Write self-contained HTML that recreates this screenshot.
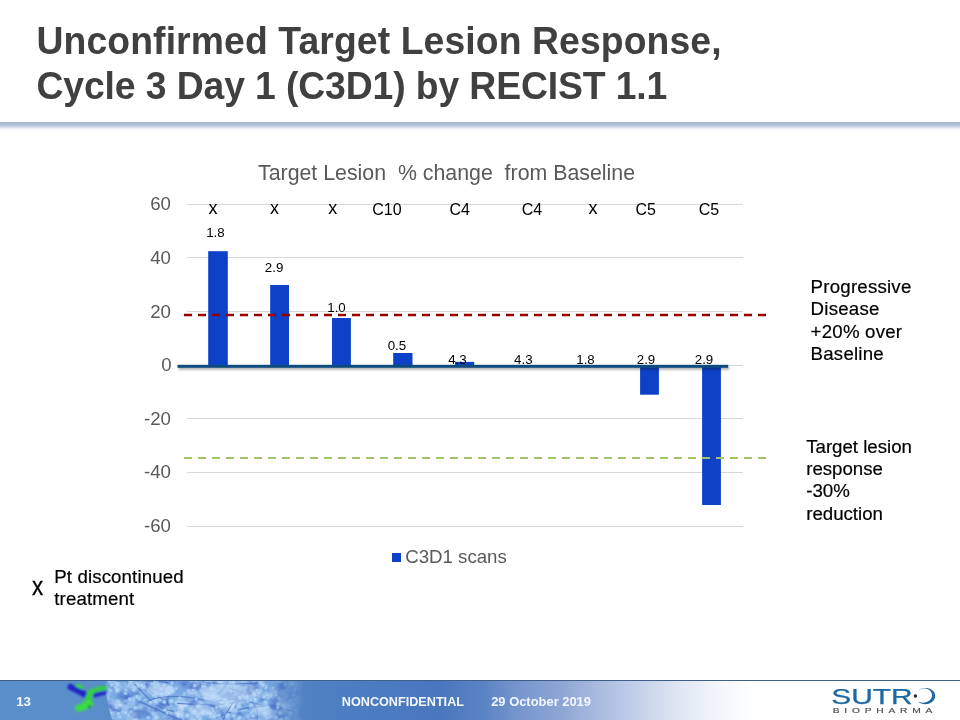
<!DOCTYPE html>
<html lang="en">
<head>
<meta charset="utf-8">
<title>Unconfirmed Target Lesion Response</title>
<style>
  html, body { margin: 0; padding: 0; }
  body { width: 960px; height: 720px; overflow: hidden; background: #ffffff; position: relative;
         font-family: "Liberation Sans", Arial, sans-serif; color: #000; }
  .abs { position: absolute; white-space: nowrap; }
  #title { left: 36.5px; top: 19.3px; font-size: 37.33px; font-weight: bold; color: #404040; line-height: 44.8px; }
  #divider { left: 0; top: 122px; width: 960px; height: 8px;
             background: linear-gradient(to bottom, #a7b8ce 0%, #adbdd2 30%, #c6d2e1 55%, #e8edf4 80%, #ffffff 100%); }
  #chart { left: 0; top: 0; width: 960px; height: 720px; }
  .note { font-size: 18.67px; line-height: 22.4px; color: #000; -webkit-text-stroke: 0.2px #000; }
  #footer { left: 0; top: 680px; width: 960px; height: 40px; }
</style>
</head>
<body>
<div id="title" class="abs"><span style="letter-spacing:0.1px; display:inline-block; transform:scaleY(1.03); transform-origin:0 78.9%;">Unconfirmed Target Lesion Response,</span><br><span style="letter-spacing:-0.12px; display:inline-block; transform:scaleY(1.03); transform-origin:0 78.9%;">Cycle 3 Day 1 (C3D1) by RECIST 1.1</span></div>
<div id="divider" class="abs"></div>

<svg id="chart" class="abs" viewBox="0 0 960 720" font-family="Liberation Sans, Arial, sans-serif">
  <defs>
    <filter id="axsh" filterUnits="userSpaceOnUse" x="160" y="350" width="600" height="40">
      <feGaussianBlur in="SourceAlpha" stdDeviation="1.2"/>
      <feOffset dx="1" dy="2" result="o"/>
      <feComponentTransfer><feFuncA type="linear" slope="0.32"/></feComponentTransfer>
      <feMerge><feMergeNode/><feMergeNode in="SourceGraphic"/></feMerge>
    </filter>
  </defs>
  <!-- gridlines -->
  <g stroke="#d9d9d9" stroke-width="1" shape-rendering="crispEdges">
    <line x1="187" x2="743" y1="204.5" y2="204.5"/>
    <line x1="187" x2="743" y1="257.5" y2="257.5"/>
    <line x1="187" x2="743" y1="311.5" y2="311.5"/>
    <line x1="187" x2="743" y1="365.5" y2="365.5"/>
    <line x1="187" x2="743" y1="418.5" y2="418.5"/>
    <line x1="187" x2="743" y1="472.5" y2="472.5"/>
    <line x1="187" x2="743" y1="526.5" y2="526.5"/>
  </g>
  <!-- chart title -->
  <text x="258" y="179.6" font-size="21.33" fill="#595959" xml:space="preserve">Target Lesion  % change  from Baseline</text>
  <!-- y labels -->
  <g font-size="18.67" fill="#595959" text-anchor="end">
    <text x="171" y="210">60</text>
    <text x="171" y="263.8">40</text>
    <text x="171" y="317.5">20</text>
    <text x="171.7" y="371">0</text>
    <text x="171" y="424.6">-20</text>
    <text x="171" y="478.3">-40</text>
    <text x="171" y="532">-60</text>
  </g>
  <!-- bars -->
  <g fill="#0c41c8">
    <rect x="208.2" y="251.2" width="19.6" height="114"/>
    <rect x="270.2" y="285" width="18.8" height="81"/>
    <rect x="332" y="318" width="18.9" height="48"/>
    <rect x="393.2" y="353" width="19.3" height="13"/>
    <rect x="455" y="361.9" width="19.2" height="4"/>
    <rect x="640.1" y="366" width="18.8" height="28.7"/>
    <rect x="702.1" y="366" width="18.8" height="139"/>
  </g>
  <!-- zero axis -->
  <rect x="177.5" y="364.8" width="550.7" height="3" fill="#114b7d" filter="url(#axsh)"/>
  <!-- dashed thresholds -->
  <line x1="184" x2="766.2" y1="315" y2="315" stroke="#980000" stroke-width="2.3" stroke-dasharray="8,6"/>
  <line x1="184" x2="766.2" y1="458" y2="458" stroke="#a0c468" stroke-width="2.2" stroke-dasharray="8,6"/>
  <!-- top labels -->
  <g font-size="16" fill="#000" text-anchor="middle">
    <text x="212.9" y="213.8" font-size="18">x</text>
    <text x="274.6" y="213.8" font-size="18">x</text>
    <text x="332.7" y="213.8" font-size="18">x</text>
    <text x="387" y="215.2">C10</text>
    <text x="459.7" y="215.2">C4</text>
    <text x="531.9" y="215.2">C4</text>
    <text x="592.9" y="213.8" font-size="18">x</text>
    <text x="645.7" y="215.2">C5</text>
    <text x="709" y="215.2">C5</text>
  </g>
  <!-- data labels -->
  <g font-size="13.33" fill="#000" text-anchor="middle">
    <text x="215.4" y="237">1.8</text>
    <text x="274.1" y="271.8">2.9</text>
    <text x="336.5" y="312">1.0</text>
    <text x="396.9" y="349.5">0.5</text>
    <text x="457.4" y="363.6">4.3</text>
    <text x="523.3" y="363.6">4.3</text>
    <text x="585.5" y="363.6">1.8</text>
    <text x="646" y="364">2.9</text>
    <text x="704" y="364">2.9</text>
  </g>
  <!-- legend -->
  <rect x="392" y="553" width="9" height="9" fill="#0c41c8"/>
  <text x="405.2" y="563.3" font-size="18.67" fill="#595959">C3D1 scans</text>
</svg>

<div class="abs note" style="left:810.6px; top:275.7px; letter-spacing:0.22px;">Progressive<br>Disease<br>+20% over<br>Baseline</div>
<div class="abs note" style="left:806.2px; top:435.6px;">Target lesion<br>response<br>-30%<br>reduction</div>
<div class="abs" style="left:31.8px; top:570.9px; font-size:26px; line-height:30px; transform:scaleX(0.86); transform-origin:left; -webkit-text-stroke:0.35px #000;">x</div>
<div class="abs note" style="left:54.3px; top:565.5px; line-height:22.8px; letter-spacing:0.12px;">Pt discontinued<br>treatment</div>

<!--FOOTER-START-->
<svg id="footer" class="abs" viewBox="0 0 960 40" width="960" height="40" font-family="Liberation Sans, Arial, sans-serif">
  <defs>
    <linearGradient id="fbg" x1="0" y1="0" x2="960" y2="0" gradientUnits="userSpaceOnUse">
      <stop offset="0" stop-color="#5b8fcb"/>
      <stop offset="0.10" stop-color="#5a8eca"/>
      <stop offset="0.33" stop-color="#4e80c2"/>
      <stop offset="0.458" stop-color="#4977be"/>
      <stop offset="0.50" stop-color="#5882c3"/>
      <stop offset="0.542" stop-color="#7896cd"/>
      <stop offset="0.583" stop-color="#8ca5d5"/>
      <stop offset="0.625" stop-color="#aabce0"/>
      <stop offset="0.667" stop-color="#c5d2ea"/>
      <stop offset="0.708" stop-color="#e0e7f4"/>
      <stop offset="0.75" stop-color="#f3f6fb"/>
      <stop offset="0.785" stop-color="#ffffff"/>
      <stop offset="1" stop-color="#ffffff"/>
    </linearGradient>
    <linearGradient id="cellfade" x1="100" y1="0" x2="305" y2="0" gradientUnits="userSpaceOnUse">
      <stop offset="0" stop-color="#fff" stop-opacity="0"/>
      <stop offset="0.04" stop-color="#fff" stop-opacity="1"/>
      <stop offset="0.80" stop-color="#fff" stop-opacity="1"/>
      <stop offset="1" stop-color="#fff" stop-opacity="0"/>
    </linearGradient>
    <mask id="cellmask" maskUnits="userSpaceOnUse" x="95" y="0" width="220" height="40">
      <path d="M104 0 Q107 22 112 40 L305 40 L305 0 Z" fill="url(#cellfade)"/>
    </mask>
    <radialGradient id="bump" cx="0.4" cy="0.35" r="0.65">
      <stop offset="0" stop-color="#c4dff8" stop-opacity="0.9"/>
      <stop offset="0.6" stop-color="#94bfee" stop-opacity="0.7"/>
      <stop offset="1" stop-color="#6f9fe0" stop-opacity="0"/>
    </radialGradient>
    <filter id="soft" x="-10%" y="-10%" width="120%" height="120%"><feGaussianBlur stdDeviation="0.6"/></filter>
    <filter id="soft2" x="-20%" y="-20%" width="140%" height="140%"><feGaussianBlur stdDeviation="0.8"/></filter>
    <filter id="tex" filterUnits="userSpaceOnUse" x="100" y="0" width="210" height="40" color-interpolation-filters="sRGB">
      <feTurbulence type="fractalNoise" baseFrequency="0.085 0.1" numOctaves="3" seed="11" result="n"/>
      <feColorMatrix in="n" type="matrix" values="0 0 0 0 0.76  0 0 0 0 0.87  0 0 0 0 0.98  2.6 0 0 0 -1.05" result="light"/>
      <feTurbulence type="fractalNoise" baseFrequency="0.07 0.09" numOctaves="2" seed="29" result="n2"/>
      <feColorMatrix in="n2" type="matrix" values="0 0 0 0 0.28  0 0 0 0 0.42  0 0 0 0 0.78  0 2.6 0 0 -1.15" result="dark"/>
      <feMerge><feMergeNode in="SourceGraphic"/><feMergeNode in="dark"/><feMergeNode in="light"/></feMerge>
    </filter>
    <clipPath id="fclip"><rect x="0" y="0" width="960" height="40"/></clipPath>
  </defs>
  <rect x="0" y="0" width="960" height="40" fill="url(#fbg)"/>
  <g mask="url(#cellmask)" clip-path="url(#fclip)">
    <rect x="100" y="0" width="210" height="40" fill="#7aaae2" filter="url(#tex)"/>
    <g fill="none" stroke="#4a6fc4" stroke-width="1.3" stroke-opacity="0.75" filter="url(#soft)"><path d="M168.1 2.5 C145.9 -0.3 131.0 0.4 116.5 0.9"/><path d="M189.6 -1.5 C214.3 6.5 231.3 3.5 260.5 3.3"/><path d="M217.5 14.8 C233.3 -1.1 237.0 -12.3 228.6 -24.1"/><path d="M264.1 4.0 C249.7 -5.6 239.8 -13.5 222.5 -14.2"/><path d="M237.7 16.4 C226.4 29.0 221.2 47.3 211.8 58.0"/><path d="M217.0 21.3 C234.4 16.5 248.3 21.8 272.9 28.0"/><path d="M134.6 19.4 C157.0 29.0 178.8 41.4 202.4 47.3"/><path d="M220.9 24.0 C193.4 17.3 169.8 12.3 147.7 20.8"/><path d="M231.2 44.7 C232.5 30.6 237.6 21.2 242.6 10.0"/><path d="M127.8 -2.1 C118.4 -12.8 99.4 -27.1 78.2 -28.1"/><path d="M212.1 39.2 C228.5 33.2 244.4 25.0 273.7 26.2"/><path d="M134.4 3.8 C146.6 16.4 154.2 28.0 174.3 31.5"/><path d="M177.0 23.3 C199.2 24.1 223.2 28.5 247.5 18.3"/><path d="M257.1 38.7 C259.3 24.5 245.5 10.7 230.7 8.8"/><path d="M145.7 3.1 C149.0 12.6 160.9 19.7 173.9 24.2"/><path d="M275.5 25.7 C292.8 32.1 308.3 34.8 327.5 50.8"/></g>
    <g fill="url(#bump)"><circle cx="196.4" cy="19.4" r="2.0"/><circle cx="125.8" cy="13.7" r="2.3"/><circle cx="266.8" cy="6.5" r="1.8"/><circle cx="290.5" cy="21.1" r="2.1"/><circle cx="211.4" cy="1.1" r="2.9"/><circle cx="295.8" cy="34.5" r="3.2"/><circle cx="156.7" cy="14.7" r="2.1"/><circle cx="255.8" cy="21.3" r="3.4"/><circle cx="170.0" cy="8.9" r="3.4"/><circle cx="297.1" cy="34.1" r="3.4"/><circle cx="264.8" cy="29.6" r="2.3"/><circle cx="206.4" cy="14.2" r="1.9"/><circle cx="111.4" cy="11.2" r="2.3"/><circle cx="240.3" cy="38.3" r="2.7"/><circle cx="287.8" cy="39.5" r="3.7"/><circle cx="176.7" cy="8.8" r="2.3"/><circle cx="144.2" cy="8.2" r="3.0"/><circle cx="280.7" cy="33.6" r="2.8"/><circle cx="232.7" cy="32.0" r="2.0"/><circle cx="234.2" cy="36.4" r="3.4"/><circle cx="251.5" cy="19.1" r="2.2"/><circle cx="259.1" cy="13.3" r="3.4"/><circle cx="294.5" cy="15.8" r="2.6"/><circle cx="289.7" cy="29.0" r="2.1"/><circle cx="130.6" cy="6.0" r="3.6"/><circle cx="262.5" cy="5.8" r="3.5"/><circle cx="296.2" cy="26.3" r="2.5"/><circle cx="212.4" cy="5.2" r="1.8"/><circle cx="294.4" cy="26.0" r="2.9"/><circle cx="287.1" cy="17.4" r="3.5"/><circle cx="266.3" cy="8.4" r="2.3"/><circle cx="162.8" cy="9.6" r="3.0"/><circle cx="156.3" cy="16.8" r="2.1"/><circle cx="282.5" cy="14.2" r="2.7"/><circle cx="219.2" cy="36.2" r="2.6"/><circle cx="284.0" cy="20.1" r="2.9"/><circle cx="207.6" cy="0.7" r="2.7"/><circle cx="141.5" cy="0.2" r="3.4"/><circle cx="139.4" cy="18.9" r="3.3"/><circle cx="214.0" cy="13.0" r="2.8"/><circle cx="213.8" cy="31.4" r="2.0"/><circle cx="214.7" cy="9.9" r="2.4"/><circle cx="255.8" cy="20.3" r="2.9"/><circle cx="253.4" cy="36.5" r="2.7"/><circle cx="224.8" cy="20.2" r="2.8"/><circle cx="240.4" cy="18.1" r="2.9"/><circle cx="198.7" cy="37.7" r="3.2"/><circle cx="276.0" cy="37.7" r="2.3"/><circle cx="214.5" cy="37.7" r="3.5"/><circle cx="132.6" cy="4.9" r="2.7"/><circle cx="120.1" cy="9.6" r="1.9"/><circle cx="235.9" cy="31.4" r="3.6"/><circle cx="136.0" cy="28.6" r="3.1"/><circle cx="133.7" cy="35.3" r="3.7"/><circle cx="148.6" cy="38.1" r="2.6"/><circle cx="200.5" cy="39.6" r="3.5"/><circle cx="137.3" cy="17.3" r="2.8"/><circle cx="171.8" cy="7.8" r="2.4"/><circle cx="246.1" cy="0.8" r="2.9"/><circle cx="191.4" cy="0.7" r="2.5"/><circle cx="227.0" cy="20.5" r="1.9"/><circle cx="297.1" cy="31.5" r="3.7"/><circle cx="126.3" cy="10.6" r="1.9"/><circle cx="257.1" cy="10.8" r="2.1"/><circle cx="187.9" cy="36.5" r="3.4"/><circle cx="156.2" cy="6.0" r="3.6"/><circle cx="216.7" cy="28.0" r="2.0"/><circle cx="117.2" cy="27.5" r="2.7"/><circle cx="120.0" cy="37.5" r="3.1"/><circle cx="261.5" cy="3.3" r="3.5"/><circle cx="118.9" cy="34.5" r="2.7"/><circle cx="171.8" cy="22.1" r="3.7"/><circle cx="158.0" cy="5.2" r="2.9"/><circle cx="152.3" cy="4.4" r="2.1"/><circle cx="115.8" cy="8.1" r="2.4"/><circle cx="165.2" cy="30.4" r="2.4"/><circle cx="203.0" cy="7.1" r="2.5"/><circle cx="109.5" cy="10.0" r="1.8"/><circle cx="248.2" cy="22.0" r="2.2"/><circle cx="198.1" cy="37.4" r="2.0"/><circle cx="264.9" cy="17.3" r="2.8"/><circle cx="267.9" cy="15.7" r="2.8"/><circle cx="239.4" cy="39.3" r="2.5"/><circle cx="267.5" cy="28.3" r="3.1"/><circle cx="184.5" cy="13.9" r="1.9"/><circle cx="131.2" cy="2.8" r="3.3"/><circle cx="155.6" cy="6.5" r="2.0"/><circle cx="269.2" cy="34.8" r="3.1"/><circle cx="160.7" cy="9.7" r="2.4"/><circle cx="195.1" cy="6.3" r="2.7"/><circle cx="157.1" cy="38.5" r="3.7"/><circle cx="212.1" cy="9.8" r="3.7"/><circle cx="166.1" cy="14.3" r="1.8"/><circle cx="180.0" cy="19.0" r="2.8"/><circle cx="145.0" cy="20.2" r="1.8"/><circle cx="157.2" cy="3.6" r="2.6"/><circle cx="114.1" cy="0.9" r="2.4"/><circle cx="151.2" cy="23.4" r="2.9"/><circle cx="251.6" cy="26.3" r="3.2"/><circle cx="276.5" cy="15.6" r="2.5"/><circle cx="297.0" cy="6.0" r="3.2"/><circle cx="230.8" cy="1.8" r="3.5"/><circle cx="279.0" cy="25.1" r="3.3"/><circle cx="263.6" cy="5.6" r="2.8"/><circle cx="203.8" cy="33.4" r="3.4"/><circle cx="266.3" cy="23.4" r="3.6"/><circle cx="238.5" cy="27.7" r="2.3"/><circle cx="112.0" cy="5.3" r="2.5"/><circle cx="126.4" cy="33.4" r="2.9"/><circle cx="227.8" cy="25.0" r="3.2"/><circle cx="200.9" cy="0.1" r="3.4"/><circle cx="251.2" cy="20.1" r="2.9"/><circle cx="233.9" cy="2.6" r="3.3"/><circle cx="154.9" cy="3.0" r="2.3"/><circle cx="247.5" cy="8.2" r="3.3"/><circle cx="295.3" cy="19.8" r="2.6"/><circle cx="198.9" cy="27.3" r="3.3"/><circle cx="225.7" cy="25.7" r="2.0"/><circle cx="134.6" cy="10.2" r="3.3"/><circle cx="165.1" cy="22.7" r="1.8"/><circle cx="117.8" cy="10.8" r="3.1"/><circle cx="240.3" cy="27.0" r="2.4"/><circle cx="206.2" cy="18.6" r="2.7"/><circle cx="129.0" cy="35.7" r="2.2"/><circle cx="295.8" cy="37.5" r="1.8"/><circle cx="195.0" cy="32.8" r="3.7"/><circle cx="193.2" cy="10.7" r="2.2"/><circle cx="289.4" cy="8.4" r="3.0"/><circle cx="133.5" cy="21.0" r="3.7"/><circle cx="131.7" cy="32.8" r="2.8"/><circle cx="278.1" cy="28.1" r="2.3"/><circle cx="280.2" cy="19.4" r="1.8"/><circle cx="106.7" cy="19.7" r="2.7"/><circle cx="164.6" cy="5.6" r="2.5"/><circle cx="167.3" cy="33.6" r="1.8"/><circle cx="251.6" cy="33.6" r="2.0"/><circle cx="285.7" cy="28.5" r="3.6"/><circle cx="162.2" cy="14.9" r="2.6"/><circle cx="299.8" cy="23.6" r="2.5"/><circle cx="189.0" cy="11.0" r="1.9"/><circle cx="125.7" cy="33.4" r="2.4"/><circle cx="287.5" cy="10.0" r="2.3"/><circle cx="205.1" cy="7.6" r="2.5"/><circle cx="291.5" cy="35.4" r="3.4"/><circle cx="228.4" cy="36.5" r="3.7"/><circle cx="212.6" cy="28.8" r="1.9"/><circle cx="248.1" cy="18.0" r="3.3"/><circle cx="231.0" cy="11.4" r="1.9"/><circle cx="285.8" cy="5.1" r="2.7"/><circle cx="172.7" cy="11.9" r="3.3"/><circle cx="295.4" cy="10.4" r="3.1"/><circle cx="164.4" cy="22.3" r="2.6"/><circle cx="138.5" cy="6.5" r="2.2"/><circle cx="281.8" cy="19.9" r="2.2"/><circle cx="281.8" cy="39.9" r="2.7"/><circle cx="133.1" cy="7.7" r="2.0"/><circle cx="172.3" cy="3.6" r="2.3"/><circle cx="156.1" cy="22.8" r="3.6"/><circle cx="251.4" cy="16.5" r="2.6"/><circle cx="207.7" cy="15.1" r="2.5"/><circle cx="118.0" cy="11.1" r="3.7"/><circle cx="130.4" cy="20.1" r="3.1"/><circle cx="273.4" cy="8.6" r="2.3"/><circle cx="154.2" cy="16.0" r="2.7"/><circle cx="291.1" cy="33.9" r="3.5"/><circle cx="110.2" cy="1.3" r="3.2"/><circle cx="279.8" cy="18.9" r="3.0"/><circle cx="106.0" cy="15.7" r="3.7"/><circle cx="266.2" cy="34.2" r="3.7"/><circle cx="154.2" cy="4.4" r="2.1"/></g>
    <g fill="#c2ddf8" fill-opacity="0.6" filter="url(#soft2)"><ellipse cx="226" cy="15" rx="24" ry="12"/><ellipse cx="160" cy="10" rx="14" ry="6"/><ellipse cx="200" cy="30" rx="12" ry="6"/><ellipse cx="262" cy="30" rx="10" ry="6"/></g>
    <g fill="#4468bd" fill-opacity="0.35" filter="url(#soft2)"><ellipse cx="285" cy="12" rx="8" ry="9"/><ellipse cx="140" cy="34" rx="10" ry="4"/><ellipse cx="250" cy="8" rx="4" ry="8"/></g>
  </g>
  <g filter="url(#soft2)" stroke-linecap="round" fill="none">
    <path d="M70.5 7 L78 10.5 L86.5 15.5" stroke="#2222cc" stroke-width="6.2"/>
    <path d="M94 15.3 L104.5 12.6" stroke="#2626c8" stroke-width="4.4"/>
    <path d="M77.5 5.6 L82 7.6" stroke="#3ad04a" stroke-width="3.8"/>
    <path d="M91.5 11.6 L97 9 L104.5 8.2" stroke="#36cc46" stroke-width="4.8"/>
    <path d="M90.5 12.5 L88 20 L84 26" stroke="#34d044" stroke-width="6.6"/>
    <path d="M78.5 28.2 L84 26.5 L89.5 23.5" stroke="#3ad84a" stroke-width="7.4"/>
    <circle cx="89.5" cy="26.8" r="1.3" fill="#14663a" stroke="none"/>
  </g>
  <rect x="0" y="0" width="960" height="1" fill="#3f5e88"/>
  <g fill="#f2f7ff" font-weight="bold" font-size="13.33">
    <text x="16.2" y="25.8">13</text>
    <text x="341.8" y="26.1" textLength="122.2" lengthAdjust="spacingAndGlyphs">NONCONFIDENTIAL</text>
    <text x="491.2" y="26.1" textLength="99.8" lengthAdjust="spacingAndGlyphs">29 October 2019</text>
  </g>
  <g>
    <text x="831.2" y="23.9" font-size="21.5" fill="#1b68a4" textLength="81.5" lengthAdjust="spacingAndGlyphs" stroke="#1b68a4" stroke-width="0.25">SUTR</text>
    <circle cx="915.4" cy="16" r="1.75" fill="#2b2f3a"/>
    <path d="M917.2 11 C920 8.2 925 7.2 929 8.4 C933.6 9.8 936 13.6 935 17.6 C934 21.6 930 24.2 925.6 24.2 C922.4 24.2 919.4 23.2 917.6 21.6 C920.4 22.8 924 23 926.8 22 C930.4 20.7 932.4 17.8 932 14.6 C931.6 11.4 929 9.1 925.6 8.5 C922.4 8.1 919.4 9.2 917.2 11 Z" fill="#1b68a4"/>
    <text transform="translate(832.7,32.7) scale(1.6,1)" x="0" y="0" font-size="6.4" fill="#4d4d4d" stroke="#4d4d4d" stroke-width="0.15" letter-spacing="3.0">BIOPHARMA</text>
  </g>
</svg>
<!--FOOTER-END-->
</body>
</html>
